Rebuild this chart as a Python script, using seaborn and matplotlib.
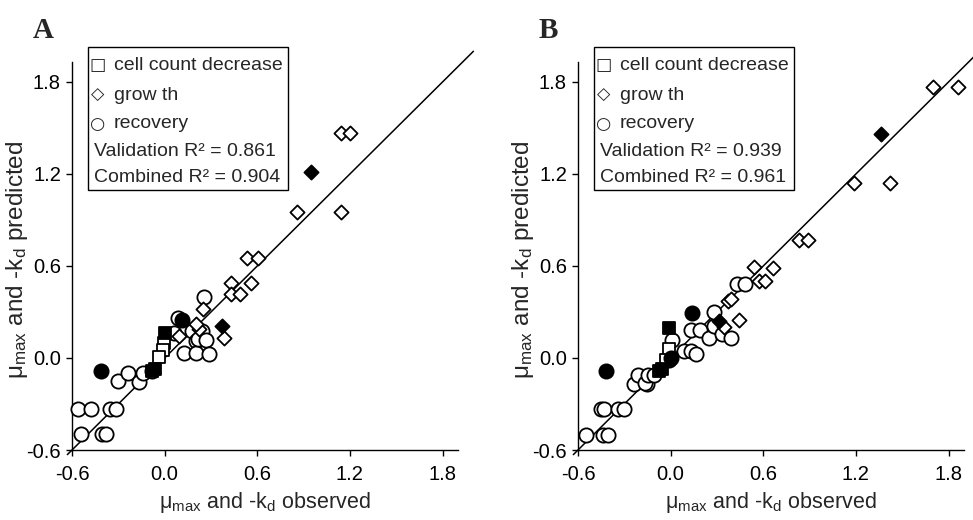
import matplotlib
matplotlib.use("Agg")
import matplotlib.pyplot as plt
import seaborn as sns
import pandas as pd
from matplotlib.patches import Rectangle

sns.set_style("ticks")
plt.rcParams['font.family'] = ['Liberation Sans', 'DejaVu Sans']
plt.rcParams['mathtext.default'] = 'regular'

# ---------------- Panel A data (observed, predicted) ----------------
a_open_circle_x = [-0.56, -0.475, -0.357, -0.314, -0.544, -0.405, -0.38, -0.30, -0.24, -0.163, -0.14, -0.085,
                   0.058, 0.127, 0.18, 0.24, 0.20, 0.20, 0.213, 0.266, 0.29, 0.256, 0.084]
a_open_circle_y = [-0.335, -0.335, -0.335, -0.335, -0.495, -0.495, -0.495, -0.15, -0.10, -0.155, -0.096, -0.085,
                   0.165, 0.035, 0.176, 0.175, 0.11, 0.035, 0.124, 0.12, 0.024, 0.40, 0.26]
a_open_diamond_x = [1.14, 1.20, 0.86, 1.14, 0.535, 0.606, 0.428, 0.56, 0.428, 0.49, 0.25, 0.385, 0.224, 0.20, 0.095]
a_open_diamond_y = [1.47, 1.47, 0.954, 0.954, 0.652, 0.652, 0.49, 0.49, 0.42, 0.42, 0.32, 0.13, 0.187, 0.22, 0.144]
a_open_square_x = [-0.006, -0.01, -0.034]
a_open_square_y = [0.10, 0.05, 0.007]
a_fill_circle_x = [-0.41, 0.11]
a_fill_circle_y = [-0.085, 0.25]
a_fill_diamond_x = [0.95, 0.374]
a_fill_diamond_y = [1.21, 0.21]
a_fill_square_x = [-0.08, -0.06, 0.0]
a_fill_square_y = [-0.085, -0.07, 0.16]

# ---------------- Panel B data (observed, predicted) ----------------
b_open_circle_x = [-0.547, -0.44, -0.405, -0.45, -0.43, -0.34, -0.30, -0.24, -0.21, -0.155, -0.165, -0.144, -0.11,
                   0.01, -0.01, 0.085, 0.135, 0.165, 0.13, 0.19, 0.25, 0.28, 0.28, 0.335, 0.39, 0.43, 0.48]
b_open_circle_y = [-0.503, -0.50, -0.50, -0.335, -0.335, -0.335, -0.335, -0.168, -0.11, -0.17, -0.16, -0.11, -0.11,
                   0.116, -0.01, 0.046, 0.046, 0.024, 0.18, 0.18, 0.13, 0.21, 0.30, 0.155, 0.13, 0.48, 0.48]
b_open_diamond_x = [1.70, 1.86, 1.19, 1.42, 0.83, 0.887, 0.54, 0.66, 0.57, 0.61, 0.37, 0.39, 0.44, 0.346]
b_open_diamond_y = [1.77, 1.77, 1.14, 1.14, 0.77, 0.77, 0.595, 0.59, 0.50, 0.50, 0.37, 0.385, 0.25, 0.20]
b_open_square_x = [-0.01, -0.03]
b_open_square_y = [0.06, -0.01]
b_fill_circle_x = [-0.416, 0.14, 0.005]
b_fill_circle_y = [-0.085, 0.296, 0.0]
b_fill_diamond_x = [1.36, 0.31]
b_fill_diamond_y = [1.46, 0.24]
b_fill_square_x = [-0.078, -0.057, -0.01]
b_fill_square_y = [-0.085, -0.074, 0.198]

ticks = [-0.6, 0.0, 0.6, 1.2, 1.8]
tick_labels = ["-0.6", "0.0", "0.6", "1.2", "1.8"]
identity_range = [-0.63, 2.0]

legend_entries = ["□", "cell count decrease", "◇", "grow th", "○", "recovery"]
r2_a = ["Validation R² = 0.861", "Combined R² = 0.904"]
r2_b = ["Validation R² = 0.939", "Combined R² = 0.961"]


def frame(rows):
    recs = []
    for shape, filled, xs, ys in rows:
        for x, y in zip(xs, ys):
            recs.append(dict(obs=x, pred=y, shape=shape, filled=filled))
    return pd.DataFrame(recs)


df_a = frame([
    ("o", False, a_open_circle_x, a_open_circle_y),
    ("D", False, a_open_diamond_x, a_open_diamond_y),
    ("s", False, a_open_square_x, a_open_square_y),
    ("o", True, a_fill_circle_x, a_fill_circle_y),
    ("D", True, a_fill_diamond_x, a_fill_diamond_y),
    ("s", True, a_fill_square_x, a_fill_square_y),
])
df_b = frame([
    ("o", False, b_open_circle_x, b_open_circle_y),
    ("D", False, b_open_diamond_x, b_open_diamond_y),
    ("s", False, b_open_square_x, b_open_square_y),
    ("o", True, b_fill_circle_x, b_fill_circle_y),
    ("D", True, b_fill_diamond_x, b_fill_diamond_y),
    ("s", True, b_fill_square_x, b_fill_square_y),
])

W, H = 973, 520
fig = plt.figure(figsize=(W / 100, H / 100), dpi=100)


def px(x, y):
    return x / W, 1 - y / H


sizes = {"o": 105, "D": 52, "s": 80}

FS = 14.5
LFS = 14.0
xlabel = "μ$_{max}$ and -k$_{d}$ observed"
ylabel = "μ$_{max}$ and -k$_{d}$ predicted"


def draw_panel(left_px, df, letter, r2):
    ax = fig.add_axes([left_px / W, 1 - 450 / H, 386 / W, 388 / H])
    ax.plot(identity_range, identity_range, color="black", lw=1.1, clip_on=False, zorder=1)
    for filled in (False, True):
        for shape in ("o", "D", "s"):
            sub = df[(df["shape"] == shape) & (df["filled"] == filled)]
            if len(sub) == 0:
                continue
            sns.scatterplot(data=sub, x="obs", y="pred", ax=ax, marker=shape, s=sizes[shape],
                            color="black" if filled else "white", edgecolor="black",
                            linewidth=1.3, zorder=3, clip_on=False, legend=False)
    ax.set_xlim(-0.6, 1.9)
    ax.set_ylim(-0.6, 1.93)
    ax.set_xticks(ticks)
    ax.set_xticklabels(tick_labels)
    ax.set_yticks(ticks)
    ax.set_yticklabels(tick_labels)
    ax.tick_params(direction="out", length=4, width=1, colors="black", labelsize=FS)
    ax.tick_params(axis="x", pad=7)
    ax.tick_params(axis="y", pad=4)
    for s in ("top", "right"):
        ax.spines[s].set_visible(False)
    for s in ("left", "bottom"):
        ax.spines[s].set_linewidth(1.0)
        ax.spines[s].set_color("black")
    ax.set_xlabel(xlabel, fontsize=FS + 1, labelpad=4)
    ax.set_ylabel(ylabel, fontsize=17.5)
    ax.yaxis.set_label_coords(-0.108, 0.49)

    off = left_px - 72
    # panel letter
    fig.text(*px(33 + off, 38), letter, fontsize=21, fontweight="bold",
             family=["Liberation Serif", "DejaVu Serif"], ha="left", va="baseline")
    # legend box
    x0, y0 = px(88 + off, 190)
    x1, y1 = px(288 + off, 47)
    fig.patches.append(Rectangle((x0, y0), x1 - x0, y1 - y0, transform=fig.transFigure,
                                 facecolor="white", edgecolor="black", lw=1.0, zorder=5))
    rows_y = [63, 93, 122]
    for i, yy in enumerate(rows_y):
        fig.text(*px(98 + off, yy), legend_entries[2 * i], fontsize=12.5, ha="center",
                 va="center_baseline", family=["DejaVu Sans"], zorder=6)
        fig.text(*px(114 + off, yy), legend_entries[2 * i + 1], fontsize=LFS, ha="left",
                 va="center_baseline", zorder=6)
    for i, yy in enumerate([149, 175]):
        fig.text(*px(94 + off, yy), r2[i], fontsize=LFS, ha="left", va="center_baseline", zorder=6)
    return ax


draw_panel(72, df_a, "A", r2_a)
draw_panel(578, df_b, "B", r2_b)

fig.savefig("out.png", dpi=100)
